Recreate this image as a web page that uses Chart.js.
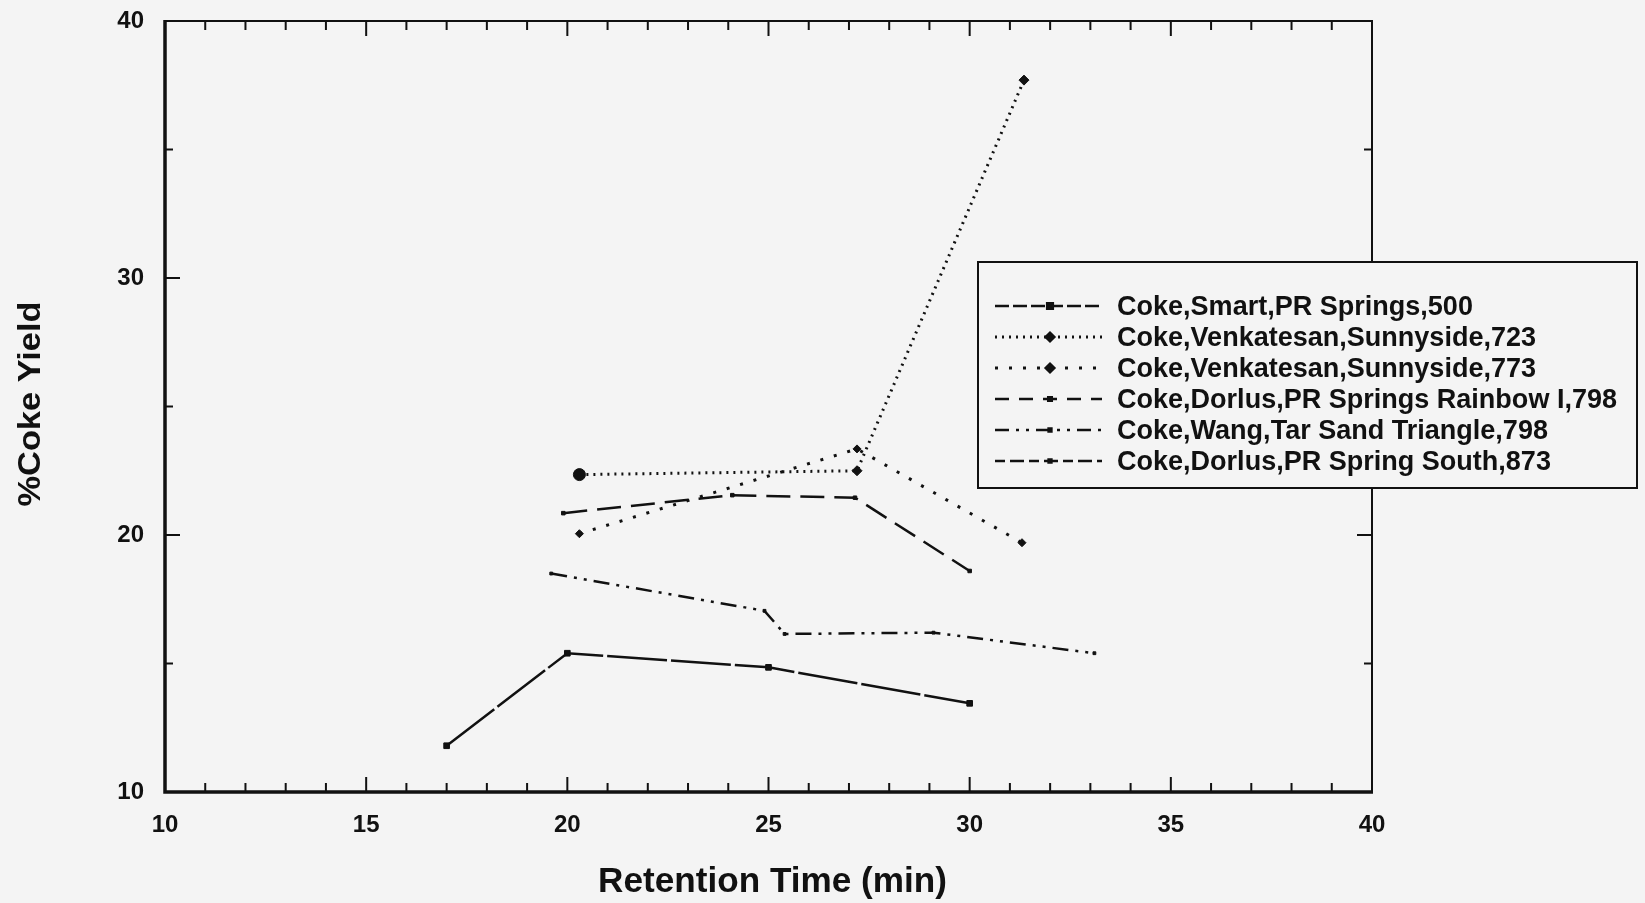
<!DOCTYPE html>
<html>
<head>
<meta charset="utf-8">
<script src="https://cdn.jsdelivr.net/npm/chart.js@4"></script>
<style>
  html, body { margin: 0; padding: 0; background: #f4f4f4; }
  #wrap { width: 1645px; height: 903px; }
</style>
</head>
<body>
<div id="wrap"><canvas id="chart" width="1645" height="903"></canvas></div>
<script>
// values
const seriesNames = [
    'Coke,Smart,PR Springs,500',
    'Coke,Venkatesan,Sunnyside,723',
    'Coke,Venkatesan,Sunnyside,773',
    'Coke,Dorlus,PR Springs Rainbow I,798',
    'Coke,Wang,Tar Sand Triangle,798',
    'Coke,Dorlus,PR Spring South,873'
];
const smartX = [17.0, 20.0, 25.0, 30.0];
const smartY = [11.8, 15.4, 14.85, 13.45];
const venk723X = [20.3, 27.2, 31.35];
const venk723Y = [22.35, 22.5, 37.7];
const venk773X = [20.3, 27.2, 31.3];
const venk773Y = [20.05, 23.35, 19.7];
const rainbowX = [19.9, 24.1, 27.15, 30.0];
const rainbowY = [20.85, 21.55, 21.45, 18.6];
const wangX = [19.6, 24.9, 25.4, 29.1, 33.1];
const wangY = [18.5, 17.05, 16.15, 16.2, 15.4];
const southX = [];
const southY = [];

const xMin = 10, xMax = 40, xStep = 5, xMinorStep = 1;
const yMin = 10, yMax = 40, yStep = 10, yMinorStep = 5;

const ink = '#111';
const bg = '#f4f4f4';

function pts(xs, ys) {
    return xs.map((x, i) => ({ x: x, y: ys[i] }));
}

function series(i, xs, ys, dash, width, style, radius) {
    return {
        label: seriesNames[i],
        data: pts(xs, ys),
        showLine: true,
        borderColor: ink,
        backgroundColor: ink,
        borderWidth: width,
        borderDash: dash,
        pointStyle: style,
        pointRadius: radius,
        pointBorderWidth: 1,
        tension: 0
    };
}

const datasets = [
    series(0, smartX, smartY, [60, 4], 2.5, 'rect', 4),
    series(1, venk723X, venk723Y, [2, 5], 3, ['circle', 'rectRot', 'rectRot'], [6, 5, 5]),
    series(2, venk773X, venk773Y, [3, 11], 3, 'rectRot', 4),
    series(3, rainbowX, rainbowY, [24, 10], 2.5, 'rect', 2.5),
    series(4, wangX, wangY, [16, 7, 3, 7, 3, 7], 2.5, 'rect', 2),
    series(5, southX, southY, [10, 5, 18, 5], 2.5, 'rect', 2)
];

// frame, inward ticks, axis titles and the boxed legend
const decorations = {
    id: 'decorations',
    afterDraw(chart) {
        const ctx = chart.ctx;
        const a = chart.chartArea;
        const xs = chart.scales.x, ys = chart.scales.y;
        ctx.save();
        ctx.strokeStyle = ink;
        ctx.setLineDash([]);

        ctx.lineWidth = 2;
        for (let v = xMin + xMinorStep; v < xMax; v += xMinorStep) {
            const px = xs.getPixelForValue(v);
            const len = v % xStep === 0 ? 15 : 9;
            ctx.beginPath();
            ctx.moveTo(px, a.bottom); ctx.lineTo(px, a.bottom - len);
            ctx.moveTo(px, a.top); ctx.lineTo(px, a.top + len);
            ctx.stroke();
        }
        for (let v = yMin + yMinorStep; v < yMax; v += yMinorStep) {
            const py = ys.getPixelForValue(v);
            const len = v % yStep === 0 ? 15 : 8;
            ctx.beginPath();
            ctx.moveTo(a.left, py); ctx.lineTo(a.left + len, py);
            ctx.moveTo(a.right, py); ctx.lineTo(a.right - len, py);
            ctx.stroke();
        }

        ctx.lineWidth = 2;
        ctx.beginPath();
        ctx.moveTo(a.left, a.top); ctx.lineTo(a.right, a.top); ctx.lineTo(a.right, a.bottom);
        ctx.stroke();
        ctx.lineWidth = 3.5;
        ctx.beginPath();
        ctx.moveTo(a.left, a.top - 1); ctx.lineTo(a.left, a.bottom); ctx.lineTo(a.right + 1, a.bottom);
        ctx.stroke();

        ctx.fillStyle = ink;
        ctx.textAlign = 'center';
        ctx.textBaseline = 'middle';
        ctx.font = 'bold 31px "Liberation Sans"';
        let t = 'Retention Time (min)';
        ctx.save();
        ctx.translate((a.left + a.right) / 2 + 4, 882);
        ctx.scale(349 / ctx.measureText(t).width, 1.15);
        ctx.fillText(t, 0, 0);
        ctx.restore();

        t = '%Coke Yield';
        ctx.save();
        ctx.translate(31, 404);
        ctx.rotate(-Math.PI / 2);
        ctx.scale(205 / ctx.measureText(t).width, 1);
        ctx.fillText(t, 0, 0);
        ctx.restore();

        // legend box
        const bx = 978, by = 262, bw = 659, bh = 226;
        ctx.fillStyle = bg;
        ctx.fillRect(bx, by, bw, bh);
        ctx.lineWidth = 2;
        ctx.strokeRect(bx, by, bw, bh);

        ctx.font = 'bold 27px "Liberation Sans"';
        const longest = Math.max(...seriesNames.map(n => ctx.measureText(n).width));
        const sx = 500 / longest;
        chart.data.datasets.forEach((ds, i) => {
            const ry = 306 + i * 31;
            ctx.strokeStyle = ink;
            ctx.lineWidth = ds.borderWidth;
            ctx.setLineDash(ds.borderDash.map(d => Math.min(d, 14)));
            ctx.beginPath();
            ctx.moveTo(995, ry); ctx.lineTo(1102, ry);
            ctx.stroke();
            ctx.setLineDash([]);
            const style = Array.isArray(ds.pointStyle) ? ds.pointStyle[1] : ds.pointStyle;
            const rad = Array.isArray(ds.pointRadius) ? ds.pointRadius[1] : ds.pointRadius;
            ctx.fillStyle = ink;
            Chart.helpers.drawPoint(ctx, { pointStyle: style, radius: Math.min(rad, 4), rotation: 0, borderWidth: 1 }, 1050, ry);
            ctx.save();
            ctx.translate(1117, ry + 1);
            ctx.scale(sx, 1.05);
            ctx.textAlign = 'left';
            ctx.fillStyle = ink;
            ctx.fillText(ds.label, 0, 0);
            ctx.restore();
        });
        ctx.restore();
    }
};

new Chart(document.getElementById('chart'), {
    type: 'scatter',
    data: { datasets: datasets },
    options: {
        responsive: false,
        animation: false,
        devicePixelRatio: 1,
        layout: { padding: { left: 0, top: 21, right: 273, bottom: 0 } },
        plugins: { legend: { display: false }, tooltip: { enabled: false } },
        scales: {
            x: {
                type: 'linear', min: xMin, max: xMax,
                grid: { display: false, drawTicks: false },
                border: { display: false },
                ticks: { stepSize: xStep, padding: 19, color: ink, font: { family: 'Liberation Sans', weight: 'bold', size: 24 } },
                afterFit(s) { s.height = 111; s.paddingLeft = 0; s.paddingRight = 0; }
            },
            y: {
                type: 'linear', min: yMin, max: yMax,
                grid: { display: false, drawTicks: false },
                border: { display: false },
                ticks: { stepSize: yStep, padding: 21, color: ink, font: { family: 'Liberation Sans', weight: 'bold', size: 24 } },
                afterFit(s) { s.width = 165; s.paddingTop = 0; s.paddingBottom = 0; }
            }
        }
    },
    plugins: [decorations]
});
</script>
</body>
</html>
